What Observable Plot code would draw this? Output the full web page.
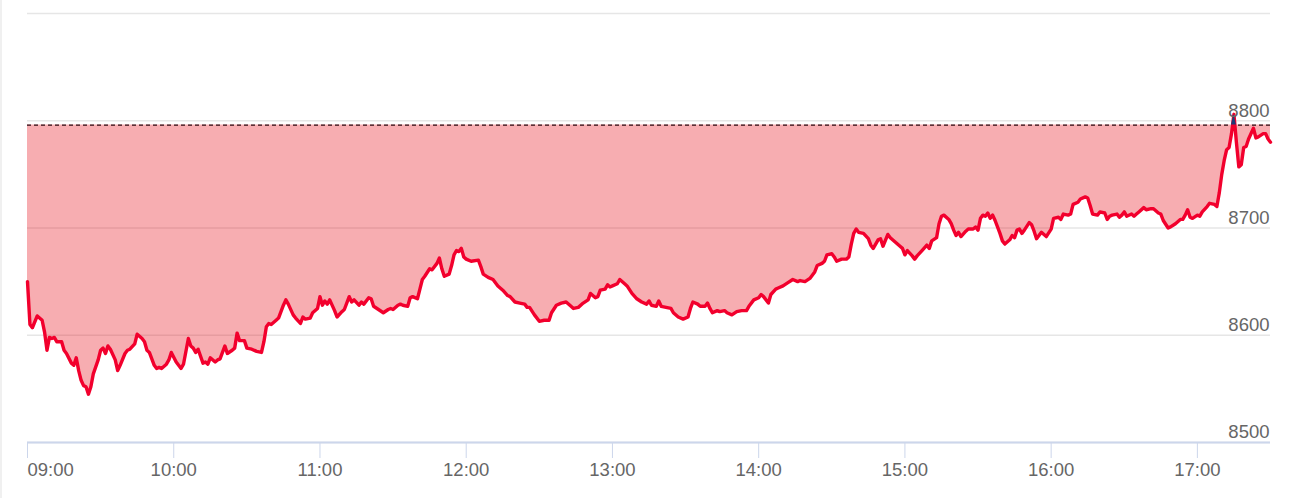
<!DOCTYPE html>
<html>
<head>
<meta charset="utf-8">
<script src="https://cdn.jsdelivr.net/npm/d3@7"></script>
<script src="https://cdn.jsdelivr.net/npm/@observablehq/plot@0.6"></script>
<style>
  html, body { margin: 0; padding: 0; background: #fff; }
  body { width: 1303px; height: 498px; overflow: hidden; position: relative; }
  #edge { position: absolute; left: 0; top: 0; width: 2px; height: 498px; background: #f0f0f0; }
</style>
</head>
<body>
<div id="chart"></div>
<div id="edge"></div>
<script>
// Intraday index level, minutes after the 09:00 open
const minutesSinceOpen = [
  0,1,2,4,6,7,8,9,10,11,12,14,15,16,18,19,20,21,22,23,24,25,26,27,29,30,31,32,33,34,36,37,38,40,41,42,44,45,47,48,49,50,52,53,54,55,57,58,59,61,62,63,64,66,67,68,69,70,72,73,74,75,77,78,79,81,82,84,85,86,87,89,90,92,94,96,97,98,99,100,
  102,103,105,106,107,109,110,112,113,114,116,117,119,120,121,122,123,124,126,127,129,130,132,133,134,136,137,138,140,141,142,144,146,148,149,150,152,153,154,156,157,158,160,161,162,163,165,166,168,169,170,171,173,174,175,176,177,178,179,180,182,185,186,187,189,191,193,195,197,198,200,
  202,204,205,206,208,210,212,214,215,217,219,221,223,224,226,228,230,231,233,234,235,237,238,239,240,242,243,245,246,248,250,252,254,255,256,258,259,260,262,264,265,267,269,271,272,273,275,276,278,279,280,281,283,284,286,287,289,291,293,295,296,298,300,
  301,302,304,305,307,308,310,312,314,316,317,319,321,323,324,326,327,328,330,331,332,334,336,337,338,339,340,341,343,345,346,347,349,350,351,353,354,356,358,359,360,361,363,364,365,367,369,370,371,373,374,375,376,378,379,380,381,382,383,385,386,388,389,390,391,392,393,394,395,396,397,399,400,
  401,403,404,405,406,407,408,409,411,412,413,414,415,416,418,420,421,423,424,425,427,428,429,431,432,434,435,436,437,439,440,442,443,444,445,447,448,449,450,451,453,454,455,456,458,459,461,462,464,465,466,468,469,471,473,474,475,476,477,478,480,481,482,484,485,487,488,489,490,491,492,493,494,495,496,497,498,499,500,501,503,504,505,507,508,509,510
];
const prices = [
  8650,8610,8607,8618,8614,8603,8586,8598,8597,8598,8594,8594,8586,8583,8574,8572,8579,8567,8558,8553,8552,8545,8552,8564,8577,8586,8588,8583,8590,8587,8577,8567,8572,8583,8586,8587,8592,8601,8597,8594,8586,8584,8572,8569,8570,8569,8573,8577,8584,8575,8572,8569,8573,8597,8590,8588,8584,8587,8574,8575,8573,8579,8575,8577,8578,8590,8583,8586,8588,8602,8595,8595,8588,8587,8585,8584,8594,8608,8611,8610,
  8614,8616,8628,8633,8629,8619,8616,8611,8617,8615,8616,8621,8625,8636,8628,8632,8629,8633,8623,8617,8622,8624,8636,8631,8633,8628,8631,8629,8635,8634,8627,8624,8621,8624,8625,8624,8628,8629,8628,8627,8635,8636,8634,8643,8652,8655,8662,8661,8667,8672,8662,8655,8657,8665,8675,8679,8678,8681,8673,8671,8669,8670,8664,8657,8654,8652,8646,8642,8637,8636,8631,
  8630,8629,8626,8626,8619,8613,8614,8614,8621,8628,8630,8631,8627,8625,8626,8630,8633,8639,8635,8636,8642,8643,8647,8645,8646,8648,8652,8648,8646,8639,8634,8631,8629,8632,8628,8627,8632,8627,8626,8625,8621,8617,8615,8617,8625,8631,8629,8627,8627,8630,8625,8621,8623,8622,8623,8621,8619,8622,8623,8623,8627,8633,8635,
  8638,8636,8630,8638,8643,8644,8646,8649,8652,8650,8651,8650,8653,8659,8665,8667,8669,8675,8676,8673,8669,8671,8671,8673,8685,8695,8699,8696,8695,8690,8684,8681,8689,8690,8683,8694,8691,8687,8683,8681,8675,8679,8674,8671,8674,8679,8684,8681,8688,8691,8704,8711,8712,8708,8704,8698,8693,8696,8692,8697,8699,8699,8701,8698,8709,8712,8711,8714,8709,8712,8707,8695,8688,
  8685,8689,8693,8691,8698,8699,8695,8698,8705,8703,8697,8690,8693,8696,8692,8699,8709,8710,8708,8713,8712,8713,8722,8724,8727,8729,8728,8721,8713,8712,8715,8714,8708,8711,8712,8713,8710,8712,8715,8711,8713,8711,8713,8715,8719,8717,8718,8718,8714,8713,8707,8700,8701,8704,8708,8708,8712,8717,8710,8709,8712,8711,8715,8720,8723,8722,8720,8733,8750,8763,8773,8775,8788,8806,8780,8757,8759,8775,8776,8783,8793,8784,8785,8788,8788,8783,8780
];
const previousClose = 8796;
const sessionEndMinutes = 510;           // 17:30
const hourTicks = [0, 60, 120, 180, 240, 300, 360, 420, 480]; // 09:00 .. 17:00
const gridValues = [8500, 8600, 8700, 8800, 8900];
const yLabelValues = [8500, 8600, 8700, 8800];

const toDate = m => new Date(Date.UTC(2024, 0, 2, 9, m));
const data = minutesSinceOpen.map((m, i) => ({t: toDate(m), v: prices[i]}));
const fmt = d3.utcFormat("%H:%M");
const xTickDates = hourTicks.map(toDate);

const axisColor = "#ccd6eb";
const textColor = "#666666";

const chart = Plot.plot({
  width: 1303,
  height: 498,
  marginLeft: 27,
  marginRight: 33,
  marginTop: 13,
  marginBottom: 56,
  style: {
    fontFamily: '"Liberation Sans", Arial, sans-serif',
    fontSize: "18.5px",
    color: textColor,
    background: "#ffffff",
    overflow: "visible"
  },
  x: {type: "utc", domain: [toDate(0), toDate(sessionEndMinutes)], label: null},
  y: {domain: [8500, 8900], label: null},
  marks: [
    Plot.ruleY(gridValues, {stroke: "#e6e6e6", strokeWidth: 1.5}),
    Plot.areaY(data, {
      x: "t", y1: () => previousClose, y2: d => Math.min(d.v, previousClose),
      fill: "rgb(230,0,13)", fillOpacity: 0.32
    }),
    Plot.ruleY([previousClose], {stroke: "#2a0810", strokeWidth: 1.2, strokeDasharray: "4,3"}),
    Plot.lineY(data, {x: "t", y: "v", stroke: "#f2002d", strokeWidth: 3.4, strokeLinejoin: "round", strokeLinecap: "round"}),
    Plot.areaY(data, {
      x: "t", y1: () => previousClose, y2: d => Math.max(d.v, previousClose),
      fill: "#1d3a78"
    }),
    Plot.ruleY([8500], {stroke: axisColor, strokeWidth: 2}),
    Plot.axisX(xTickDates.slice(1), {
      tickSize: 16, tickPadding: 4, stroke: axisColor, fill: textColor,
      tickFormat: fmt, label: null
    }),
    Plot.axisX(xTickDates.slice(0, 1), {
      tickSize: 16, tickPadding: 4, stroke: axisColor, fill: textColor,
      tickFormat: fmt, textAnchor: "start", label: null
    }),
    Plot.axisY(yLabelValues, {
      anchor: "right", tickSize: 0, tickPadding: 0, textAnchor: "end",
      dx: -1, dy: -10, fill: textColor, label: null, tickFormat: d => String(d)
    })
  ]
});

document.getElementById("chart").appendChild(chart);
</script>
</body>
</html>
